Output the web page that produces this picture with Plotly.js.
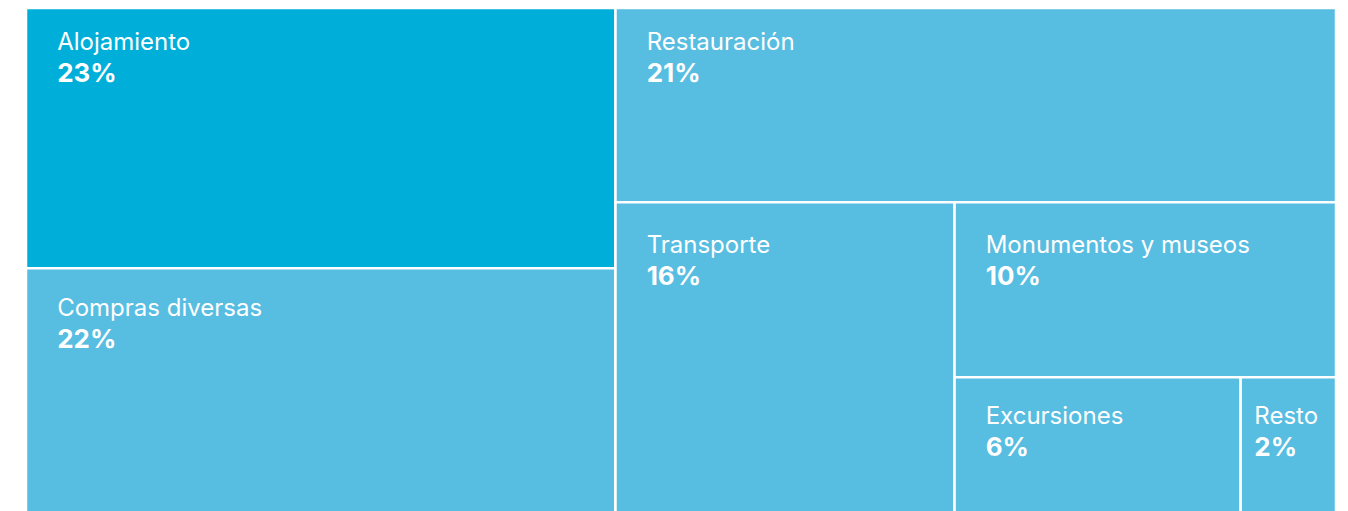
<!DOCTYPE html>
<html>
<head>
<meta charset="utf-8">
<script src="https://cdn.plot.ly/plotly-3.0.1.min.js"></script>
<style>html,body{margin:0;padding:0;background:#fff;overflow:hidden;}#chart{width:1348px;height:511px;overflow:hidden;}</style>
</head>
<body>
<div id="chart"></div>
<script>
// Data
const categories = ['Alojamiento', 'Compras diversas', 'Restauración', 'Transporte', 'Monumentos y museos', 'Excursiones', 'Resto'];
const shares = [23, 22, 21, 16, 10, 6, 2];
// Grouping used to reproduce the nested layout of the original
const groupIds = ['g1', 'g2', 'g3', 'g4', 'g5'];
const groupParents = ['', '', 'g2', 'g3', 'g4'];
const groupBeforeCategory = [0, 2, 3, 4, 5];
const categoryParents = ['g1', 'g1', 'g2', 'g3', 'g4', 'g5', 'g5'];

// Styles
const darkBlue = '#00AFD9';
const lightBlue = '#57BDE1';
const highlight = 'Alojamiento';
const indentCount = [4, 4, 4, 4, 4, 4, 2];
const indentSize = [25, 25, 25, 25, 25, 25, 19];
const topSpacer = [6, 12, 6, 15, 15, 11, 11];

const NB = '\u00A0';
const ids = [], labels = [], parents = [], values = [], colors = [], templates = [];
categories.forEach((c, i) => {
  groupIds.forEach((g, k) => {
    if (groupBeforeCategory[k] === i) {
      ids.push(g); labels.push(' '); parents.push(groupParents[k]);
      values.push(0); colors.push(lightBlue); templates.push(' ');
    }
  });
  const ind = '<span style="font-size:' + indentSize[i] + 'px;font-weight:normal">' + NB.repeat(indentCount[i]) + '</span>';
  ids.push('c' + i);
  labels.push(c);
  parents.push(categoryParents[i]);
  values.push(shares[i]);
  colors.push(c === highlight ? darkBlue : lightBlue);
  templates.push(
    '<span style="font-size:' + topSpacer[i] + 'px">' + NB + '</span><br>' +
    ind + '<span style="font-size:24px">%{label}</span><br>' +
    ind + '<span style="font-size:26px;font-weight:bold">%{value}%</span>'
  );
});

const trace = {
  type: 'treemap',
  ids: ids,
  labels: labels,
  parents: parents,
  values: values,
  branchvalues: 'remainder',
  sort: false,
  tiling: {packing: 'slice-dice', pad: 0},
  pathbar: {visible: false},
  marker: {
    colors: colors,
    line: {color: '#ffffff', width: 2.5},
    pad: {t: 0, l: 0, r: 0, b: 0}
  },
  texttemplate: templates,
  textposition: 'top left',
  textfont: {family: 'Inter, "Liberation Sans", Arial, sans-serif', size: 25, color: '#ffffff'},
  hoverinfo: 'none'
};

const layout = {
  width: 1348,
  height: 517,
  margin: {l: 26, r: 12, t: 8, b: 0},
  paper_bgcolor: '#ffffff',
  showlegend: false
};

Plotly.newPlot('chart', [trace], layout, {displayModeBar: false, staticPlot: true});
</script>
</body>
</html>
